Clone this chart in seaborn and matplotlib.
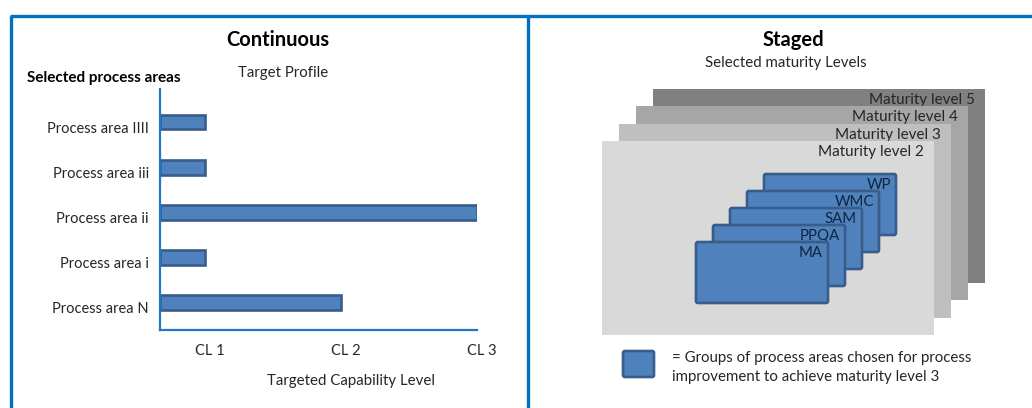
import matplotlib
matplotlib.use("Agg")
import matplotlib.pyplot as plt
from matplotlib.patches import Rectangle, FancyBboxPatch
from matplotlib.transforms import ScaledTranslation
import seaborn as sns
import pandas as pd

# ---- data -------------------------------------------------------------
process_areas = ["Process area IIII", "Process area iii", "Process area ii",
                 "Process area i", "Process area N"]
capability_levels = [1, 1, 3, 1, 2]
cl_ticks = [1, 2, 3]
cl_labels = ["CL 1", "CL 2", "CL 3"]

maturity_levels = ["Maturity level 2", "Maturity level 3",
                   "Maturity level 4", "Maturity level 5"]
maturity_colors = ["#D9D9D9", "#BFBFBF", "#A6A6A6", "#808080"]
staged_areas = ["MA", "PPQA", "SAM", "WMC", "WP"]

# ---- style ------------------------------------------------------------
sns.set_theme(style="white")
plt.rcParams["font.family"] = ["Lato", "DejaVu Sans"]
TXT = "#262626"
FRAME = "#0070C0"
BAR_FILL = "#4F81BD"
BAR_EDGE = "#385D8A"
FS = 10.8

W, H = 1032, 408
fig = plt.figure(figsize=(W / 100, H / 100), dpi=100)
fig.patch.set_facecolor("white")


def fx(px):
    return px / W


def fy(py):
    return 1 - py / H


# overlay in pixel units for the frame and the staged diagram
ov = fig.add_axes([0, 0, 1, 1], zorder=0)
ov.set_xlim(0, W)
ov.set_ylim(H, 0)
ov.axis("off")
ov.patch.set_alpha(0)

# frame
ov.plot([10, W], [16, 16], color=FRAME, lw=2.4, solid_capstyle="butt")
ov.plot([11, 11], [16, H], color=FRAME, lw=2.4, solid_capstyle="butt")
ov.plot([527.5, 527.5], [16, H], color=FRAME, lw=2.4, solid_capstyle="butt")

# ---- Continuous: target profile bar chart ------------------------------
df = pd.DataFrame({"area": process_areas, "level": capability_levels})
x0 = 0.67  # start of the capability axis
ax = fig.add_axes([fx(160), fy(330), fx(477 - 160), (330 - 89) / H], zorder=2)
ax.patch.set_alpha(0)
sns.barplot(data=df, y="area", x="level", orient="h", color=BAR_FILL,
            width=0.33, edgecolor=BAR_EDGE, linewidth=1.9, saturation=1,
            ax=ax)
for p in ax.patches:
    p.set_x(x0)
    p.set_width(p.get_width() - x0)
ax.set_xlim(x0, 3.0)
ax.set_ylim(4.6, -0.73)
for side in ["top", "right"]:
    ax.spines[side].set_visible(False)
for side in ["left", "bottom"]:
    ax.spines[side].set_color("#1F77C8")
    ax.spines[side].set_linewidth(1.6)
ax.set_xticks(cl_ticks)
ax.set_xticklabels(cl_labels)
ax.tick_params(axis="both", length=0, labelsize=10.5, colors=TXT)
ax.tick_params(axis="x", pad=10)
ax.tick_params(axis="y", pad=8)
for lbl in ax.get_xticklabels():
    lbl.set_transform(lbl.get_transform() + ScaledTranslation(5 / 100, 0, fig.dpi_scale_trans))
for lbl in ax.get_yticklabels():
    lbl.set_transform(lbl.get_transform() + ScaledTranslation(0, -5 / 100, fig.dpi_scale_trans))
ax.set_xlabel("")
ax.set_ylabel("")

fig.text(fx(278), fy(40), "Continuous", ha="center", va="center",
         fontsize=14.5, fontweight="bold", color="black")
fig.text(fx(283), fy(73), "Target Profile", ha="center", va="center",
         fontsize=FS, color=TXT)
fig.text(fx(27), fy(78), "Selected process areas", ha="left", va="center",
         fontsize=11, fontweight="bold", color="black")
fig.text(fx(351), fy(381), "Targeted Capability Level", ha="center",
         va="center", fontsize=FS, color=TXT)

# ---- Staged: maturity levels ------------------------------------------
fig.text(fx(793), fy(40), "Staged", ha="center", va="center",
         fontsize=14.5, fontweight="bold", color="black")
fig.text(fx(786), fy(63), "Selected maturity Levels", ha="center",
         va="center", fontsize=FS, color=TXT)

lvl_step = (17.0, -17.3)
lvl_origin = (602, 141)
lvl_size = (332, 194)
for i, (name, col) in reversed(list(enumerate(zip(maturity_levels, maturity_colors)))):
    x = lvl_origin[0] + i * lvl_step[0]
    y = lvl_origin[1] + i * lvl_step[1]
    ov.add_patch(Rectangle((x, y), lvl_size[0], lvl_size[1], facecolor=col,
                           edgecolor="none", zorder=1 + (3 - i)))
    ov.text(x + lvl_size[0] - 10, y + 11, name, ha="right", va="center",
            fontsize=11, color=TXT, zorder=1 + (3 - i))

box_step = (17.0, -17.0)
box_origin = (696, 242)
box_size = (132, 61)
n = len(staged_areas)
for i, name in reversed(list(enumerate(staged_areas))):
    x = box_origin[0] + i * box_step[0]
    y = box_origin[1] + i * box_step[1]
    z = 10 + (n - i)
    ov.add_patch(FancyBboxPatch((x, y), box_size[0], box_size[1],
                                boxstyle="round,pad=0,rounding_size=2",
                                facecolor=BAR_FILL, edgecolor=BAR_EDGE,
                                lw=1.9, zorder=z))
    ov.text(x + box_size[0] - 5, y + 11, name, ha="right", va="center",
            fontsize=FS, color="#10243E", zorder=z)

# legend
ov.add_patch(FancyBboxPatch((623, 351), 31, 26,
                            boxstyle="round,pad=0,rounding_size=2",
                            facecolor=BAR_FILL, edgecolor=BAR_EDGE, lw=1.9,
                            zorder=5))
ov.text(672, 358, "= Groups of process areas chosen for process",
        ha="left", va="center", fontsize=FS, color=TXT)
ov.text(672, 377, "improvement to achieve maturity level 3",
        ha="left", va="center", fontsize=FS, color=TXT)

fig.savefig("out.png", dpi=100, facecolor="white")
